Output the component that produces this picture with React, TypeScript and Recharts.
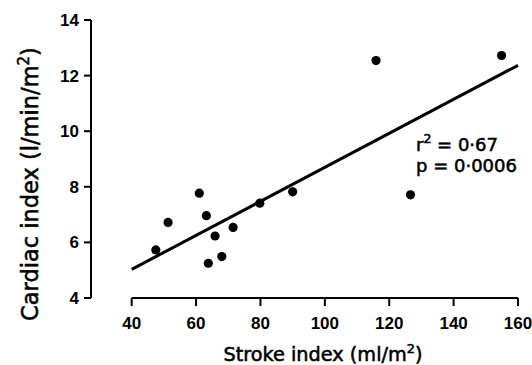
import React from 'react';
import { ScatterChart, Scatter, XAxis, YAxis, ReferenceLine, Customized } from 'recharts';

const strokeIndex = [47.5, 51.3, 61.0, 63.2, 65.9, 71.5, 68.0, 63.8, 79.8, 90.0, 115.9, 154.9, 126.6];
const cardiacIndex = [5.73, 6.72, 7.77, 6.96, 6.23, 6.54, 5.49, 5.25, 7.41, 7.82, 12.54, 12.72, 7.71];

const fitX = [40, 160];
const fitY = [5.03, 12.37];

const xTicks = [40, 60, 80, 100, 120, 140, 160];
const yTicks = [4, 6, 8, 10, 12, 14];

const points = strokeIndex.map((x, i) => ({ x, y: cardiacIndex[i] }));

const sans = 'Liberation Sans, Arial, sans-serif';
const tickStyle = { fill: '#000', fontSize: 17, fontWeight: 'bold', fontFamily: sans };

const Dot = (props: any) => <circle cx={props.cx} cy={props.cy} r={4.6} fill="#000" />;

// DejaVu with a thin outline comes closer to the heavy scanned lettering
const Texts = () => (
  <g fill="#000" stroke="#000" strokeWidth={0.55} fontFamily="DejaVu Sans, sans-serif">
    <text x={323} y={361} fontSize={19.3} textAnchor="middle">
      Stroke index (ml/m<tspan fontSize={13} dy={-8}>2</tspan><tspan dy={8}>)</tspan>
    </text>
    <text x={38} y={184} fontSize={22.5} textAnchor="middle" transform="rotate(-90 38 184)">
      Cardiac index (l/min/m<tspan fontSize={15} dy={-9}>2</tspan><tspan dy={9}>)</tspan>
    </text>
    <text x={416} y={151} fontSize={18}>
      r<tspan fontSize={12.5} dy={-8}>2</tspan><tspan dy={8}> = 0·67</tspan>
    </text>
    <text x={416} y={172} fontSize={18}>p = 0·0006</text>
  </g>
);

export default function App() {
  return (
    <div style={{ position: 'absolute', left: 0, top: 0, background: '#fff' }}>
      <ScatterChart width={532} height={365} margin={{ top: 20, right: 14, left: 0, bottom: 0 }}>
        <XAxis
          type="number"
          dataKey="x"
          domain={[27.36, 160]}
          allowDataOverflow
          ticks={xTicks}
          axisLine={false}
          tickLine={{ stroke: '#000', strokeWidth: 2 }}
          tickSize={8}
          tickMargin={11}
          height={67}
          tick={tickStyle}
        />
        <YAxis
          type="number"
          dataKey="y"
          domain={[4, 14]}
          ticks={yTicks}
          width={91}
          axisLine={{ stroke: '#000', strokeWidth: 2 }}
          tickLine={{ stroke: '#000', strokeWidth: 2 }}
          tickSize={7}
          tickMargin={5}
          tick={tickStyle}
        />
        <ReferenceLine
          segment={[{ x: fitX[0], y: 4 }, { x: fitX[1], y: 4 }]}
          stroke="#000"
          strokeWidth={2}
          ifOverflow="visible"
        />
        <ReferenceLine
          segment={[{ x: fitX[0], y: fitY[0] }, { x: fitX[1], y: fitY[1] }]}
          stroke="#000"
          strokeWidth={3}
          ifOverflow="visible"
        />
        <Scatter data={points} fill="#000" shape={Dot} isAnimationActive={false} />
        <Customized component={Texts} />
      </ScatterChart>
    </div>
  );
}
